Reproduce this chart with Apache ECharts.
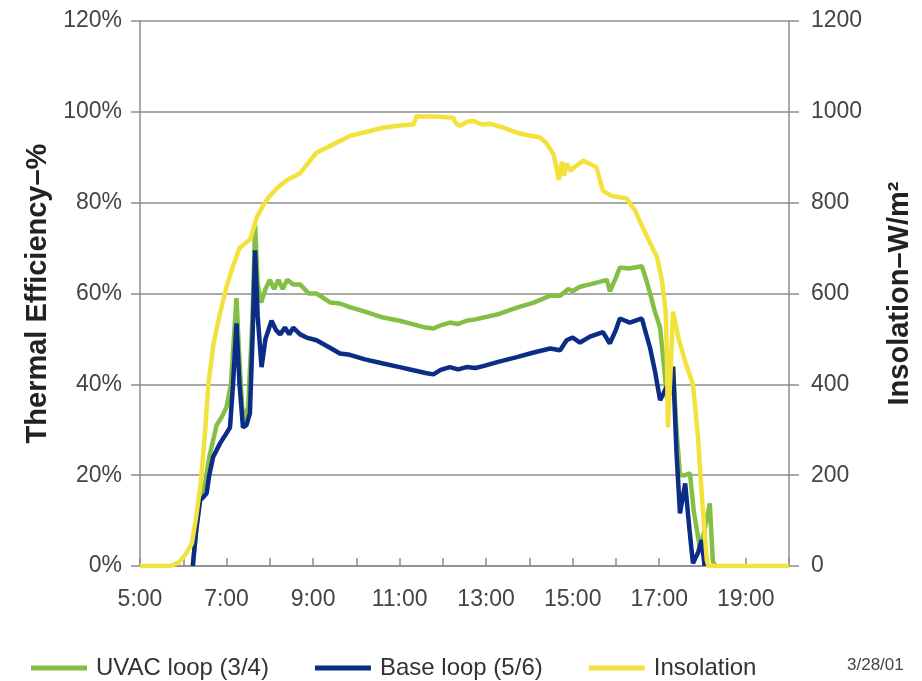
<!DOCTYPE html>
<html>
<head>
<meta charset="utf-8">
<title>Thermal efficiency and insolation</title>
<script src="https://cdn.jsdelivr.net/npm/echarts@6/dist/echarts.min.js"></script>
<style>
  html, body { margin: 0; padding: 0; background: #fff; }
  #chart { width: 922px; height: 681px; }
</style>
</head>
<body>
<div id="chart"></div>
<script>
// time of day in decimal hours, efficiency in %, insolation in W/m2
const insolTimes = [5.0, 5.7, 5.9, 6.05, 6.2, 6.3, 6.4, 6.5, 6.58, 6.7, 6.85, 7.0, 7.15, 7.3, 7.45, 7.55, 7.7, 7.85, 8.0, 8.2, 8.4, 8.7, 9.08, 9.5, 9.85, 10.2, 10.62, 11.0, 11.32, 11.39, 11.8, 12.24, 12.3, 12.4, 12.55, 12.7, 12.9, 13.09, 13.4, 13.71, 14.0, 14.24, 14.4, 14.55, 14.62, 14.68, 14.75, 14.8, 14.86, 14.95, 15.0, 15.24, 15.4, 15.55, 15.7, 15.9, 16.25, 16.44, 16.62, 16.95, 17.06, 17.15, 17.18, 17.2, 17.26, 17.32, 17.45, 17.6, 17.78, 17.9, 17.94, 18.02, 18.1, 18.14, 20.0];
const insolValues = [0, 0, 8, 25, 50, 110, 180, 290, 400, 490, 556, 615, 660, 700, 712, 720, 768, 795, 815, 835, 850, 865, 910, 930, 947, 955, 965, 970, 972, 990, 990, 987, 975, 969, 978, 980, 972, 974, 965, 954, 948, 944, 930, 908, 880, 850, 890, 860, 886, 870, 875, 892, 885, 878, 826, 815, 809, 783, 745, 680, 630, 560, 450, 305, 420, 560, 500, 450, 400, 280, 218, 110, 13, 0, 0];

const uvacTimes = [6.22, 6.3, 6.39, 6.5, 6.6, 6.77, 6.9, 7.0, 7.1, 7.23, 7.3, 7.38, 7.5, 7.6, 7.66, 7.72, 7.8, 7.9, 8.0, 8.1, 8.2, 8.3, 8.4, 8.54, 8.7, 8.9, 9.08, 9.4, 9.62, 9.85, 10.2, 10.62, 11.0, 11.32, 11.6, 11.78, 11.95, 12.16, 12.35, 12.55, 12.75, 12.93, 13.3, 13.71, 14.1, 14.48, 14.71, 14.9, 15.0, 15.17, 15.4, 15.6, 15.79, 15.86, 16.0, 16.09, 16.3, 16.6, 16.7, 16.79, 16.9, 17.02, 17.1, 17.18, 17.25, 17.32, 17.4, 17.48, 17.6, 17.71, 17.8, 17.94, 18.05, 18.17, 18.24, 18.3];
const uvacValues = [0, 8, 15, 18, 24, 31, 33, 35, 40, 59, 45, 32, 35, 55, 75, 62, 58, 61, 63, 61, 63, 61, 63, 62, 62, 60, 60, 58, 57.8, 57, 56, 54.7, 54, 53.2, 52.5, 52.3, 53, 53.6, 53.3, 54, 54.3, 54.7, 55.5, 56.9, 58, 59.5, 59.5, 61, 60.5, 61.5, 62, 62.5, 63, 60.5, 63.5, 65.7, 65.5, 66, 63, 60, 56, 52.5, 45, 37, 38, 44, 30, 20, 20, 20.4, 12, 4, 8, 13.8, 1, 0];

const baseTimes = [6.22, 6.3, 6.39, 6.45, 6.54, 6.6, 6.69, 6.85, 6.95, 7.08, 7.15, 7.23, 7.3, 7.38, 7.46, 7.54, 7.6, 7.66, 7.72, 7.81, 7.9, 8.04, 8.14, 8.24, 8.35, 8.45, 8.54, 8.7, 8.85, 9.08, 9.4, 9.62, 9.85, 10.2, 10.62, 11.0, 11.32, 11.6, 11.78, 11.95, 12.16, 12.35, 12.55, 12.75, 12.93, 13.3, 13.71, 14.1, 14.48, 14.71, 14.86, 15.0, 15.17, 15.4, 15.7, 15.86, 16.0, 16.09, 16.32, 16.6, 16.7, 16.79, 16.9, 17.02, 17.1, 17.2, 17.32, 17.4, 17.48, 17.6, 17.7, 17.78, 17.9, 17.98, 18.05];
const baseValues = [0, 8, 14.5, 15, 16, 20, 24, 27, 28.5, 30.5, 40, 53.4, 40, 30.5, 31, 33.6, 50, 69.5, 55, 43.8, 50, 54, 52, 51, 52.5, 51, 52.5, 51, 50.3, 49.7, 48, 46.8, 46.5, 45.5, 44.6, 43.8, 43.1, 42.5, 42.2, 43.2, 43.8, 43.3, 43.8, 43.6, 44, 45, 46, 47, 47.9, 47.5, 49.7, 50.3, 49.2, 50.5, 51.5, 49, 52, 54.5, 53.6, 54.5, 51, 48, 43, 36.5, 38, 40, 43.8, 25, 11.6, 18.2, 8, 0.6, 3, 5.7, 0];

const seriesNames = ['UVAC loop (3/4)', 'Base loop (5/6)', 'Insolation'];
const seriesColors = ['#84bf45', '#0c2d86', '#f3e23c'];
const xLabelHours = [5, 7, 9, 11, 13, 15, 17, 19];
const dateNote = '3/28/01';

const pairs = (xs, ys) => xs.map((x, i) => [x, ys[i]]);

const FONT = '"Liberation Sans", Arial, sans-serif';
const AXIS_GREY = '#8c8c8c';

const chart = echarts.init(document.getElementById('chart'));

chart.setOption({
  backgroundColor: '#ffffff',
  animation: false,
  textStyle: { fontFamily: FONT },
  grid: { left: 140, right: 133, top: 21, bottom: 115, containLabel: false },
  legend: {
    left: 26,
    top: 651,
    icon: 'rect',
    itemWidth: 56,
    itemHeight: 5,
    itemGap: 46,
    textStyle: { fontSize: 24, color: '#333', fontFamily: FONT, padding: [0, 0, 0, 4] },
    data: seriesNames
  },
  graphic: [{
    type: 'text',
    left: 847,
    top: 657,
    style: { text: dateNote, fontSize: 17, fill: '#444', fontFamily: FONT }
  }],
  xAxis: {
    type: 'value',
    min: 5,
    max: 20,
    interval: 1,
    axisLine: { lineStyle: { color: AXIS_GREY, width: 1.5 } },
    axisTick: { inside: true, length: 8, lineStyle: { color: AXIS_GREY, width: 1.5 } },
    splitLine: { show: false },
    axisLabel: {
      margin: 22,
      fontSize: 23,
      color: '#444',
      fontFamily: FONT,
      formatter: v => (xLabelHours.includes(v) ? v + ':00' : '')
    }
  },
  yAxis: [{
    type: 'value',
    min: 0,
    max: 120,
    interval: 20,
    name: 'Thermal Efficiency–%',
    nameLocation: 'middle',
    nameGap: 86,
    nameTextStyle: { fontSize: 29, fontWeight: 'bold', color: '#222', fontFamily: FONT },
    axisLine: { show: true, lineStyle: { color: AXIS_GREY, width: 1.5 } },
    axisTick: { show: true, length: 9, lineStyle: { color: AXIS_GREY, width: 1.5 } },
    splitLine: { show: true, lineStyle: { color: AXIS_GREY, width: 1.5 } },
    axisLabel: { margin: 18, fontSize: 23, color: '#444', fontFamily: FONT, formatter: '{value}%' }
  }, {
    type: 'value',
    min: 0,
    max: 1200,
    interval: 200,
    position: 'right',
    name: 'Insolation–W/m²',
    nameLocation: 'middle',
    nameGap: 96,
    nameTextStyle: { fontSize: 29, fontWeight: 'bold', color: '#222', fontFamily: FONT },
    axisLine: { show: true, lineStyle: { color: AXIS_GREY, width: 1.5 } },
    axisTick: { show: true, length: 10, lineStyle: { color: AXIS_GREY, width: 1.5 } },
    splitLine: { show: false },
    axisLabel: { margin: 22, fontSize: 23, color: '#444', fontFamily: FONT, formatter: v => String(v) }
  }],
  series: [{
    name: seriesNames[0],
    type: 'line',
    yAxisIndex: 0,
    showSymbol: false,
    color: seriesColors[0],
    lineStyle: { width: 4.5 },
    data: pairs(uvacTimes, uvacValues)
  }, {
    name: seriesNames[1],
    type: 'line',
    yAxisIndex: 0,
    showSymbol: false,
    color: seriesColors[1],
    lineStyle: { width: 4.5 },
    data: pairs(baseTimes, baseValues)
  }, {
    name: seriesNames[2],
    type: 'line',
    yAxisIndex: 1,
    showSymbol: false,
    color: seriesColors[2],
    lineStyle: { width: 4.5 },
    data: pairs(insolTimes, insolValues)
  }]
});

window.addEventListener('resize', () => chart.resize());
</script>
</body>
</html>
